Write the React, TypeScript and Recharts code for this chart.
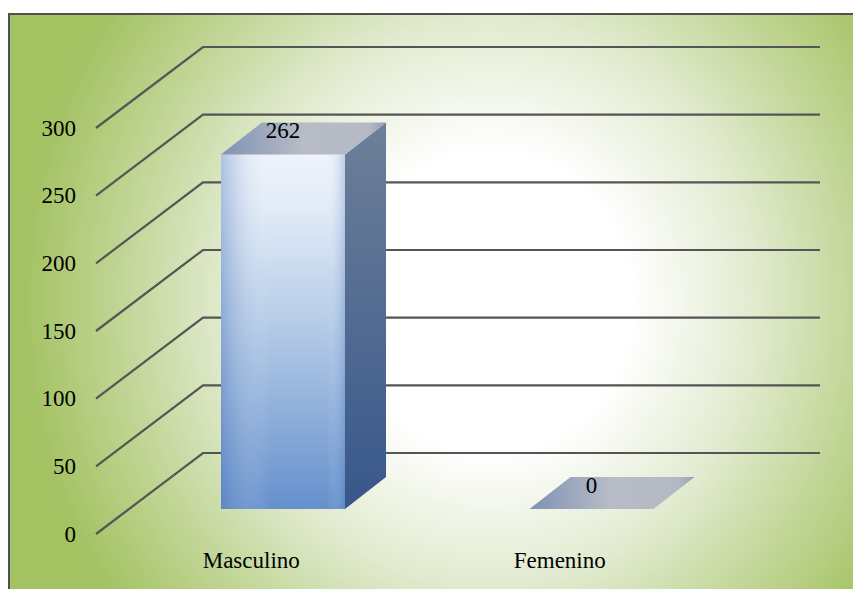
import React from "react";
import { BarChart, Bar, XAxis, YAxis, CartesianGrid } from "recharts";

const categories = ["Masculino", "Femenino"];
const values = [262, 0];
const yTicks = [0, 50, 100, 150, 200, 250, 300];

const data = categories.map((name, i) => ({ name, value: values[i] }));

// 3D projection offsets (relative to the bar front plane)
const DEPTH_DX = 41;
const DEPTH_DY = -32;
const GRID_FRONT_DX = -33;
const GRID_FRONT_DY = 25;
const GRID_BACK_DX = 74;
const GRID_BACK_DY = -56;
const FONT = "'Liberation Serif', 'Times New Roman', serif";
const FONT_SIZE = 23;

const GridLine = (props: any) => {
  const { x1, x2, y1 } = props;
  const d = `M ${x1 + GRID_FRONT_DX} ${y1 + GRID_FRONT_DY} L ${x1 + GRID_BACK_DX} ${y1 + GRID_BACK_DY} L ${x2 + GRID_BACK_DX} ${y1 + GRID_BACK_DY}`;
  return <path key={props.key ?? `g-${y1}`} d={d} fill="none" stroke="#555555" strokeWidth={2.2} />;
};

const YTick = (props: any) => {
  const { y, payload } = props;
  return (
    <text x={76} y={y + GRID_FRONT_DY + 7.5} textAnchor="end" fontFamily={FONT} fontSize={FONT_SIZE} fill="#000">
      {payload.value}
    </text>
  );
};

const XTick = (props: any) => {
  const { x, payload } = props;
  return (
    <text x={x + GRID_FRONT_DX + 1} y={568} textAnchor="middle" fontFamily={FONT} fontSize={FONT_SIZE} fill="#000">
      {payload.value}
    </text>
  );
};

const Bar3D = (props: any) => {
  const { x, y, width, height, value } = props;
  const h = Math.max(0, height || 0);
  const top = `M ${x} ${y} L ${x + DEPTH_DX} ${y + DEPTH_DY} L ${x + width + DEPTH_DX} ${y + DEPTH_DY} L ${x + width} ${y} Z`;
  const side = `M ${x + width} ${y} L ${x + width + DEPTH_DX} ${y + DEPTH_DY} L ${x + width + DEPTH_DX} ${y + h + DEPTH_DY} L ${x + width} ${y + h} Z`;
  return (
    <g>
      {h > 0 && (
        <>
          <rect x={x} y={y} width={width} height={h} fill="url(#frontGrad)" />
          <rect x={x} y={y} width={width} height={h} fill="url(#frontShade)" />
          <path d={side} fill="url(#sideGrad)" />
        </>
      )}
      <path d={top} fill="url(#topGrad)" />
      <text x={x + width / 2} y={y - 16} textAnchor="middle" fontFamily={FONT} fontSize={FONT_SIZE} fill="#000">
        {value}
      </text>
    </g>
  );
};

export default function App() {
  return (
    <div style={{ position: "absolute", left: 0, top: 0, width: 853, height: 589, overflow: "hidden" }}>
      <svg width={0} height={0} style={{ position: "absolute" }}>
        <defs>
          <linearGradient id="frontGrad" x1="0" y1="0" x2="0" y2="1">
            <stop offset="0" stopColor="#eef3fb" />
            <stop offset="0.15" stopColor="#e2ebf7" />
            <stop offset="0.5" stopColor="#b2c9e6" />
            <stop offset="1" stopColor="#6590cc" />
          </linearGradient>
          <linearGradient id="frontShade" x1="0" y1="0" x2="1" y2="0">
            <stop offset="0" stopColor="#4a76ba" stopOpacity={0.4} />
            <stop offset="0.4" stopColor="#ffffff" stopOpacity={0} />
            <stop offset="0.85" stopColor="#ffffff" stopOpacity={0} />
            <stop offset="1" stopColor="#4a76ba" stopOpacity={0.3} />
          </linearGradient>
          <linearGradient id="sideGrad" x1="0" y1="0" x2="0" y2="1">
            <stop offset="0" stopColor="#6e8099" />
            <stop offset="1" stopColor="#37578a" />
          </linearGradient>
          <linearGradient id="topGrad" x1="0" y1="0" x2="1" y2="0">
            <stop offset="0" stopColor="#7f92b4" />
            <stop offset="0.5" stopColor="#b8bcc6" />
            <stop offset="0.9" stopColor="#b4b9c5" />
            <stop offset="1" stopColor="#8fa0bf" />
          </linearGradient>
        </defs>
      </svg>
      <div
        style={{
          position: "absolute",
          left: 8,
          top: 13,
          width: 870,
          height: 600,
          border: "2.5px solid #505050",
          background:
            "radial-gradient(ellipse 470px 500px at 480px 287px, #ffffff 0%, #ffffff 30%, #e3ecd2 55%, #bfd492 80%, #a3c262 100%)",
        }}
      />
      <div style={{ position: "absolute", left: 0, top: 0 }}>
        <BarChart width={853} height={589} data={data} margin={{ top: 103, right: 107, bottom: 20, left: 69 }}>
          <CartesianGrid vertical={false} horizontal={GridLine} />
          <YAxis
            width={60}
            domain={[0, 300]}
            ticks={yTicks}
            interval={0}
            axisLine={false}
            tickLine={false}
            tick={YTick}
          />
          <XAxis dataKey="name" axisLine={false} tickLine={false} tick={XTick} height={60} interval={0} />
          <Bar dataKey="value" barSize={124} isAnimationActive={false} shape={Bar3D} />
        </BarChart>
      </div>
    </div>
  );
}
